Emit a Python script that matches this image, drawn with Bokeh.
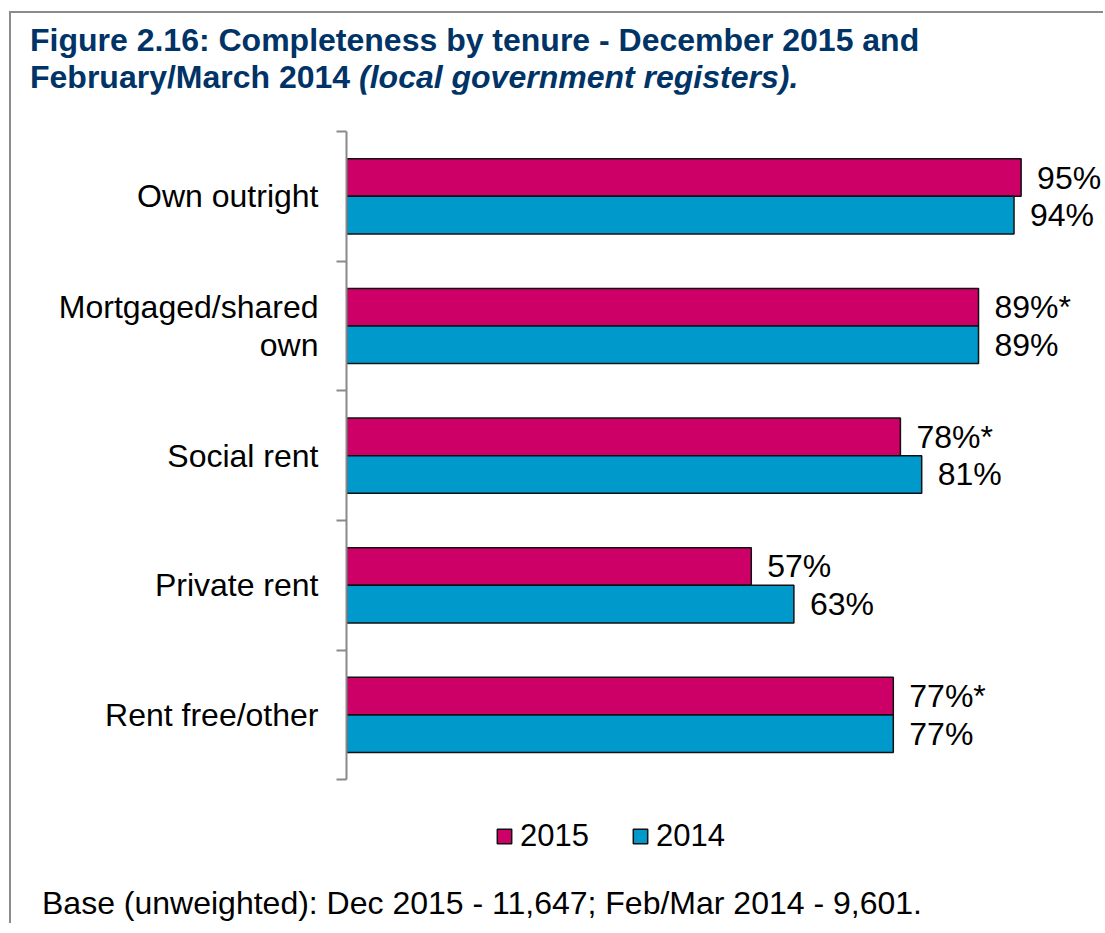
from bokeh.plotting import figure
from bokeh.layouts import column
from bokeh.models import (ColumnDataSource, Range1d, FixedTicker, Legend, LegendItem, Div)
from bokeh.transform import dodge
from bokeh.core.properties import value
from bokeh.embed import file_html
from bokeh.resources import INLINE

# ---- data ----
categories = ["Own outright", "Mortgaged/shared\nown", "Social rent", "Private rent", "Rent free/other"]
values_2015 = [95, 89, 78, 57, 77]
values_2014 = [94, 89, 81, 63, 77]
labels_2015 = ["95%", "89%*", "78%*", "57%", "77%*"]
labels_2014 = ["94%", "89%", "81%", "63%", "77%"]
series_names = ["2015", "2014"]

title_line1 = "Figure 2.16: Completeness by tenure - December 2015 and"
title_line2a = "February/March 2014 "
title_line2b = "(local government registers)."
footnote = "Base (unweighted): Dec 2015 - 11,647; Feb/Mar 2014 - 9,601."

FONT = "Liberation Sans"
MAGENTA = "#CC0066"
BLUE = "#0099CC"
NAVY = "#003366"
GREY = "#898989"

W = 1092

n = len(categories)
# category slots: first category at the top
ypos = [n - i - 0.5 for i in range(n)]

src = ColumnDataSource(dict(y=ypos, cat=categories, v15=values_2015, v14=values_2014,
                            l15=labels_2015, l14=labels_2014))

title_div = Div(
    text=(f'<div style="padding:9px 0 0 19px; font-family:\'{FONT}\'; font-size:32px; '
          f'font-weight:bold; line-height:37px; color:{NAVY}; white-space:nowrap;">'
          f'{title_line1}<br>{title_line2a}<i>{title_line2b}</i></div>'),
    width=W, height=81, margin=0)

p = figure(width=W, height=789, output_backend="svg", toolbar_location=None,
           y_range=Range1d(-0.8, n), x_range=Range1d(0, 106.6),
           min_border_left=335, min_border_right=0, min_border_top=37, min_border_bottom=0,
           margin=0)
p.outline_line_color = None
p.xgrid.visible = False
p.ygrid.visible = False
p.xaxis.visible = False

bar_h = 0.29
r15 = p.hbar(y=dodge("y", bar_h / 2), right="v15", left=0, height=bar_h,
             source=src, fill_color=MAGENTA, line_color="#111111", line_width=1.5)
r14 = p.hbar(y=dodge("y", -bar_h / 2), right="v14", left=0, height=bar_h,
             source=src, fill_color=BLUE, line_color="#111111", line_width=1.5)

p.text(x="v15", y=dodge("y", bar_h / 2), text="l15", source=src,
       x_offset=16, text_baseline="middle", text_align="left",
       text_font=value(FONT), text_font_size="32px", text_color="black")
p.text(x="v14", y=dodge("y", -bar_h / 2), text="l14", source=src,
       x_offset=16, text_baseline="middle", text_align="left",
       text_font=value(FONT), text_font_size="32px", text_color="black")

# y axis: labels at slot centres, tick marks at slot boundaries
ax = p.yaxis[0]
ax.bounds = (0, n)
ax.ticker = FixedTicker(ticks=ypos, minor_ticks=list(range(n + 1)))
ax.major_label_overrides = {y: c for y, c in zip(ypos, categories)}
ax.axis_line_color = GREY
ax.axis_line_width = 2
ax.major_tick_line_color = None
ax.major_tick_out = 0
ax.major_tick_in = 0
ax.minor_tick_line_color = GREY
ax.minor_tick_line_width = 2
ax.minor_tick_out = 10
ax.minor_tick_in = 0
ax.major_label_standoff = 18
ax.major_label_text_font = FONT
ax.major_label_text_font_size = "32px"
ax.major_label_text_line_height = 1.04
ax.major_label_text_color = "black"

# legend
legend = Legend(items=[LegendItem(label=series_names[0], renderers=[r15]),
                       LegendItem(label=series_names[1], renderers=[r14])],
                orientation="horizontal", location=(149, 29),
                glyph_width=18, glyph_height=18, label_standoff=7, spacing=42,
                padding=0, margin=0, border_line_color=None, background_fill_alpha=0,
                label_text_font=FONT, label_text_font_size="31px", label_text_color="black")
p.add_layout(legend, "center")

foot_div = Div(
    text=(f'<div style="padding:2px 0 0 31px; font-family:\'{FONT}\'; font-size:32px; '
          f'line-height:36px; color:black; white-space:nowrap;">{footnote}</div>'),
    width=W, height=40, margin=0)

layout = column(title_div, p, foot_div, spacing=0, margin=0,
                styles={"margin-left": "9px", "margin-top": "11px",
                        "border-left": "2px solid #8c8c8c", "border-top": "2px solid #8c8c8c"})

open("out.html", "w").write(file_html(layout, INLINE))
